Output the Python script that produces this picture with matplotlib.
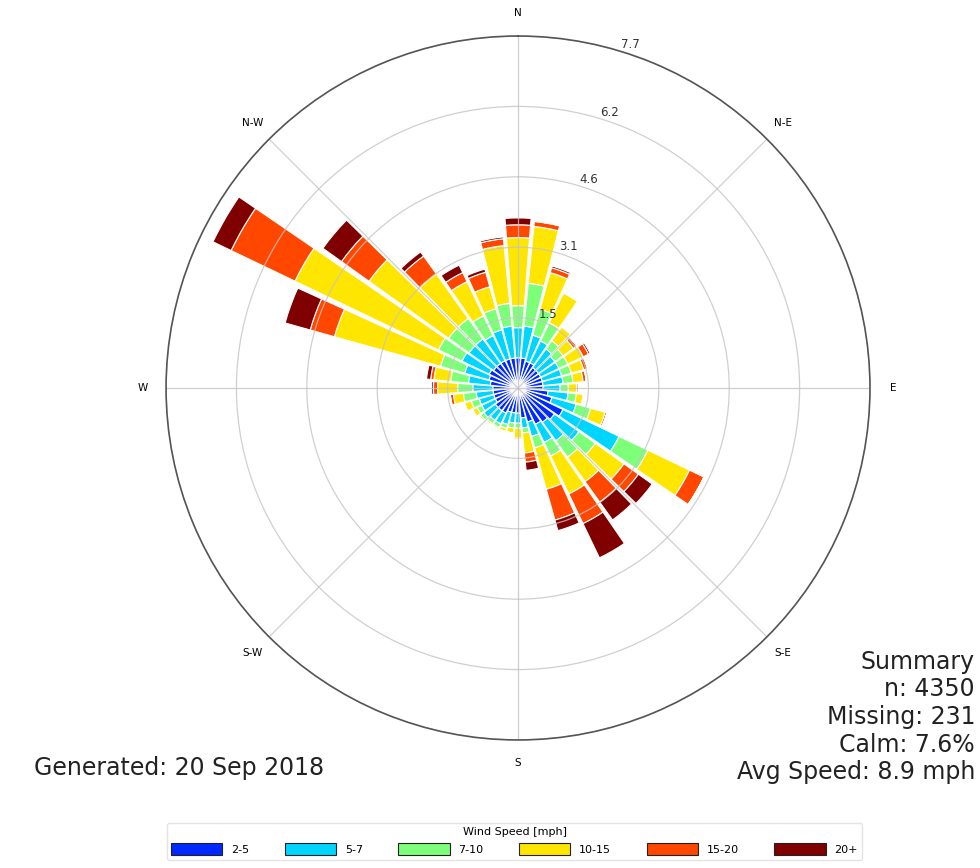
import numpy as np
import matplotlib
matplotlib.use("Agg")
import matplotlib.pyplot as plt
from matplotlib.patches import Patch

# wind directions (deg, clockwise from north), 10 degree sectors
directions = list(range(0, 360, 10))

# frequency (%) per speed bin for each direction
speed_bins = ['2-5', '5-7', '7-10', '10-15', '15-20', '20+']
freq_2_5 = [0.66, 0.66, 0.61, 0.61, 0.55, 0.55, 0.55, 0.55, 0.55, 0.55, 0.66, 0.77,
            1.09, 0.98, 0.92, 0.88, 0.77, 0.66, 0.55, 0.55, 0.55, 0.61, 0.61, 0.61,
            0.55, 0.55, 0.55, 0.55, 0.61, 0.66, 0.70, 0.66, 0.66, 0.66, 0.66, 0.66]
freq_5_7 = [0.66, 0.70, 0.59, 0.53, 0.50, 0.44, 0.44, 0.44, 0.44, 0.37, 0.44, 0.55,
            1.36, 0.66, 0.50, 0.44, 0.33, 0.22, 0.22, 0.22, 0.28, 0.26, 0.26, 0.31,
            0.33, 0.33, 0.37, 0.44, 0.48, 0.55, 0.66, 0.66, 0.66, 0.61, 0.66, 0.70]
freq_7_10 = [0.48, 0.94, 0.59, 0.44, 0.22, 0.22, 0.22, 0.22, 0.22, 0.18, 0.18, 0.33,
             0.70, 0.44, 0.44, 0.33, 0.26, 0.11, 0.11, 0.11, 0.09, 0.09, 0.09, 0.09,
             0.11, 0.18, 0.28, 0.33, 0.39, 0.55, 0.57, 0.55, 0.55, 0.48, 0.48, 0.50]
freq_10_15 = [1.49, 1.25, 0.83, 0.72, 0.37, 0.28, 0.37, 0.28, 0.22, 0.18, 0.15, 0.33,
              1.01, 0.77, 0.66, 0.92, 0.94, 0.44, 0.22, 0.11, 0.07, 0.04, 0.04, 0.04,
              0.11, 0.15, 0.22, 0.44, 0.37, 2.41, 3.48, 2.14, 1.20, 0.83, 0.50, 1.27]
freq_15_20 = [0.28, 0.11, 0.11, 0.02, 0.02, 0.09, 0.13, 0.09, 0.07, 0.04, 0.02, 0.04,
              0.35, 0.39, 0.55, 0.72, 0.70, 0.20, 0.04, 0.00, 0.00, 0.00, 0.00, 0.00,
              0.00, 0.02, 0.07, 0.09, 0.07, 0.55, 1.55, 0.74, 0.48, 0.22, 0.33, 0.15]
freq_20p = [0.15, 0.02, 0.04, 0.00, 0.00, 0.00, 0.04, 0.00, 0.00, 0.00, 0.00, 0.00,
            0.00, 0.37, 0.48, 0.83, 0.24, 0.18, 0.00, 0.00, 0.00, 0.00, 0.00, 0.00,
            0.00, 0.00, 0.00, 0.04, 0.09, 0.57, 0.44, 0.50, 0.11, 0.18, 0.07, 0.04]
all_bins = [freq_2_5, freq_5_7, freq_7_10, freq_10_15, freq_15_20, freq_20p]

r_max = 7.7
dir_labels = ['N', 'N-E', 'E', 'S-E', 'S', 'S-W', 'W', 'N-W']
summary_lines = ['Summary', 'n: 4350', 'Missing: 231', 'Calm: 7.6%', 'Avg Speed: 8.9 mph']
generated_text = 'Generated: 20 Sep 2018'

colors = plt.cm.jet(np.linspace(0, 1, 7))[1:]

fig = plt.figure(figsize=(9.8, 8.68), dpi=100)
ax = fig.add_axes([0.1694, 0.1475, 0.7184, 0.811], projection='polar')
ax.set_theta_zero_location('N')
ax.set_theta_direction(-1)

theta = np.radians(directions)
width = np.radians(10) * 0.88
bottom = np.zeros(len(directions))
for vals, col in zip(all_bins, colors):
    vals = np.array(vals)
    ax.bar(theta, vals, width=width, bottom=bottom, color=col,
           edgecolor='white', linewidth=0.8, zorder=1)
    bottom = bottom + vals

# grid / axis styling (grid and labels drawn over the bars)
ax.set_ylim(0, r_max)
rticks = np.linspace(0, r_max, 6)[1:]
ax.set_rgrids(rticks, labels=['%.1f' % r for r in rticks], angle=17,
              fontsize=8.5, color='#333333')
ax.set_thetagrids(np.arange(0, 360, 45), labels=dir_labels, fontsize=7.5)
ax.tick_params(axis='x', pad=6)
ax.grid(True, color='#c4c4c4', linewidth=0.9, alpha=0.8)
ax.spines['polar'].set_color('#555555')
ax.spines['polar'].set_linewidth(1.2)

# summary block (one text per line) and generated date
for i, line in enumerate(summary_lines):
    fig.text(0.995, 1 - (662 + 27.5 * i) / 868, line, ha='right', va='center',
             fontsize=17, color='#222222')
fig.text(0.035, 0.115, generated_text, ha='left', va='center',
         fontsize=17, color='#222222')

handles = [Patch(facecolor=c, edgecolor='#222222', linewidth=0.8) for c in colors]
leg = fig.legend(handles, speed_bins, loc='lower center', ncol=6,
                 bbox_to_anchor=(0.525, 0.003), title='Wind Speed [mph]',
                 fontsize=8, title_fontsize=8, handlelength=4.6,
                 handleheight=1.4, columnspacing=3.2, frameon=True)
leg.get_frame().set_edgecolor('#dddddd')

fig.savefig('out.png', dpi=100)
